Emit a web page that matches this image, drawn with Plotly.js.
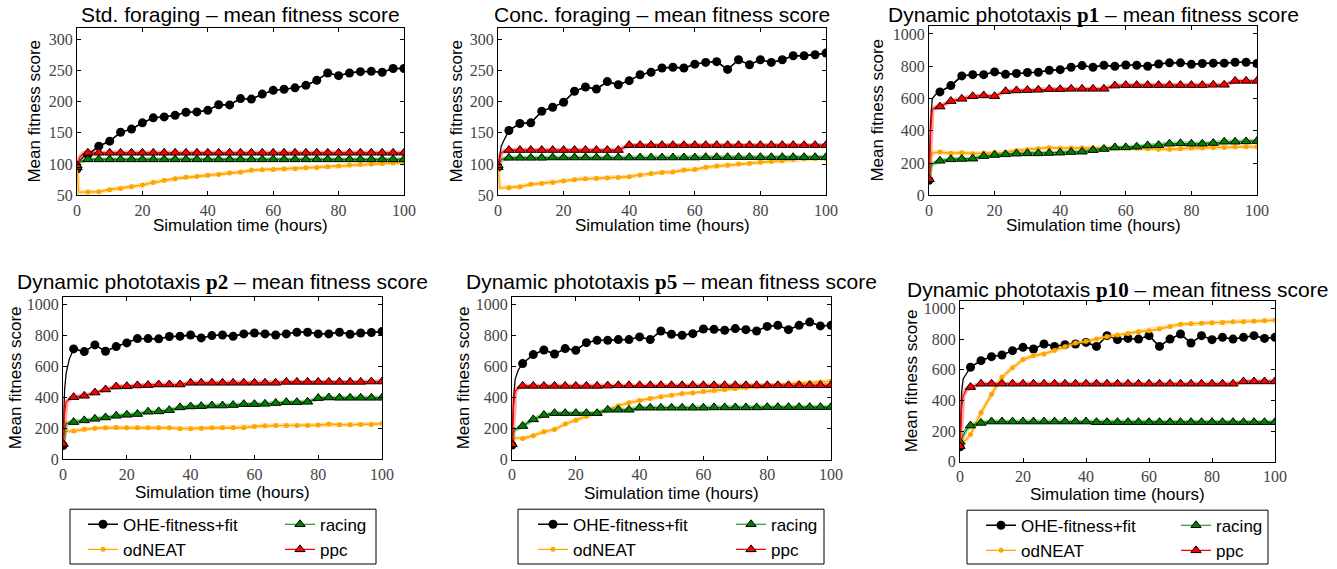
<!DOCTYPE html>
<html>
<head>
<meta charset="utf-8">
<script src="https://cdn.plot.ly/plotly-3.0.1.min.js"></script>
<style>
html,body{margin:0;padding:0;background:#fff;}
#chart{width:1337px;height:569px;}
</style>
</head>
<body>
<div id="chart"></div>
<script>
// ---------------- DATA ----------------
const X_MARK = [0, 3.33, 6.67, 10, 13.33, 16.67, 20, 23.33, 26.67, 30, 33.33, 36.67, 40, 43.33, 46.67, 50,
                53.33, 56.67, 60, 63.33, 66.67, 70, 73.33, 76.67, 80, 83.33, 86.67, 90, 93.33, 96.67, 100];
const X_EARLY = [0.5, 1, 2];
const SERIES_NAMES = ['OHE-fitness+fit', 'odNEAT', 'racing', 'ppc'];
const X_TICKS = [0, 20, 40, 60, 80, 100];
const Y_TICKS_FORAGING = [50, 100, 150, 200, 250, 300];
const Y_TICKS_PHOTOTAXIS = [0, 200, 400, 600, 800, 1000];
const PANEL_TITLES = [
  'Std. foraging – mean fitness score',
  'Conc. foraging – mean fitness score',
  'Dynamic phototaxis <span style="font-family:Liberation Serif"><b>p1</b></span> – mean fitness score',
  'Dynamic phototaxis <span style="font-family:Liberation Serif"><b>p2</b></span> – mean fitness score',
  'Dynamic phototaxis <span style="font-family:Liberation Serif"><b>p5</b></span> – mean fitness score',
  'Dynamic phototaxis <span style="font-family:Liberation Serif"><b>p10</b></span> – mean fitness score'
];
const X_TITLE = 'Simulation time (hours)';
const Y_TITLE = 'Mean fitness score';

// Std. foraging
const stdOHE = [92, 115, 128.7, 136.7, 151, 156, 166, 174, 175.5, 178, 183, 183.5, 186, 195, 194.7, 204.8, 204, 212, 218, 219.7, 222, 226, 234, 245.8, 241.5, 245.8, 248, 248.5, 247, 253, 253];
const stdOHE_early = [100, 106, 112];
const stdOD = [95, 55.3, 55.8, 59, 61, 63.8, 66.5, 70.7, 74, 76.6, 79, 80.3, 82, 83.5, 85.6, 87, 90.4, 91, 91.5, 92, 92.6, 94, 94.7, 95.8, 96.8, 98.4, 99.5, 100, 101, 101.6, 102.7];
const stdOD_early = [55, 55, 55];
const stdRAC = [95, 107.5, 107.5, 107.5, 107.5, 107.5, 107.5, 107.5, 107.5, 107.5, 107.5, 107.5, 107.5, 107.5, 107.5, 107.5, 107.5, 107.5, 107.5, 107.5, 107.5, 107.5, 107.5, 107.5, 107.5, 107.5, 107.5, 107.5, 107.5, 107.5, 107.5];
const stdRAC_early = [100, 104, 106];
const stdPPC = [98, 118, 118, 118, 118, 118, 118, 118, 118, 118, 118, 118, 118, 118, 118, 118, 118, 118, 118, 118, 118, 118, 118, 118, 118, 118, 118, 118, 118, 118, 118];
const stdPPC_early = [105, 112, 117];

// Conc. foraging
const concOHE = [95, 153.7, 165, 166, 184.6, 191, 199, 216.5, 223.4, 220, 232, 227, 233.5, 243, 247, 253.8, 255, 253.8, 260, 262.8, 264, 251.6, 267, 259, 267, 262.8, 267, 273.4, 273.4, 275, 277.7];
const concOHE_early = [113, 129, 140];
const concOD = [95, 62.2, 63.8, 67.6, 69, 70.7, 73, 75, 76.6, 77, 77.7, 78.7, 79.8, 82.5, 85, 86.7, 87.2, 90.4, 91.5, 95, 96.8, 98, 100, 101, 103, 104, 105.3, 107.5, 108.5, 109, 109];
const concOD_early = [62, 62, 62];
const concRAC = [95, 110, 110, 110, 110, 110.5, 110.5, 110.5, 110.5, 110.5, 110.5, 110.5, 110.5, 110.5, 110.5, 110.5, 110.5, 110.5, 110.5, 111, 111, 111, 111, 111, 111, 111, 111, 111, 111, 111, 111];
const concRAC_early = [103, 107, 109];
const concPPC = [98, 122.4, 122.4, 122.4, 122.4, 122.4, 122.4, 122.4, 122.4, 122.4, 122.4, 122.4, 130.3, 130.3, 130.3, 130.3, 130.3, 130.3, 130.3, 130.3, 130.3, 130.3, 130.3, 130.3, 130.3, 130.3, 130.3, 130.3, 130.3, 130.3, 130.3];
const concPPC_early = [110, 118, 121];

// Dynamic phototaxis p1
const p1OHE = [93, 641, 680, 740, 748, 748, 765, 750, 755, 761, 763, 775, 779, 794, 804, 794, 806, 800, 808, 806, 800, 814, 821, 821, 812, 817, 819, 819, 825, 825, 817];
const p1OHE_early = [450, 600, 625];
const p1OD = [100, 268, 260, 264, 258, 262, 266, 266, 278, 282, 289, 295, 291, 293, 295, 293, 293, 295, 293, 291, 289, 285, 285, 289, 293, 293, 297, 297, 301, 301, 301];
const p1OD_early = [240, 262, 266];
const p1RAC = [100, 214, 223, 225, 227, 243, 250, 254, 258, 260, 260, 262, 264, 268, 270, 280, 287, 297, 297, 301, 309, 311, 320, 322, 320, 320, 324, 332, 332, 334, 336];
const p1RAC_early = [175, 195, 203];
const p1PPC = [100, 550, 584, 598, 614, 619, 614, 645, 650, 652, 654, 658, 658, 660, 660, 660, 660, 680, 683, 683, 683, 683, 683, 683, 683, 683, 685, 685, 709, 709, 709];
const p1PPC_early = [400, 530, 545];

// Dynamic phototaxis p2
const p2OHE = [90, 714, 697, 740, 699, 729, 753, 781, 781, 779, 794, 796, 804, 785, 800, 804, 796, 811, 817, 811, 804, 811, 822, 822, 811, 811, 822, 809, 817, 820, 826];
const p2OHE_early = [450, 560, 650];
const p2OD = [100, 183, 194, 202, 204, 206, 204, 204, 204, 204, 204, 198, 198, 202, 204, 204, 204, 204, 213, 217, 219, 219, 219, 219, 222, 228, 224, 224, 226, 226, 232];
const p2OD_early = [180, 182, 183];
const p2RAC = [100, 241, 252, 262, 271, 282, 288, 293, 308, 310, 318, 336, 342, 344, 348, 348, 351, 357, 357, 359, 364, 370, 370, 372, 396, 400, 398, 398, 398, 398, 398];
const p2RAC_early = [200, 230, 238];
const p2PPC = [100, 402, 411, 432, 452, 471, 473, 478, 480, 484, 484, 484, 495, 495, 495, 495, 495, 495, 495, 495, 495, 501, 501, 501, 501, 501, 501, 501, 501, 503, 503];
const p2PPC_early = [300, 370, 390];

// Dynamic phototaxis p5
const p5OHE = [94, 620, 678, 708, 682, 717, 706, 755, 770, 770, 775, 775, 792, 775, 830, 809, 803, 813, 843, 841, 835, 846, 839, 830, 860, 867, 839, 867, 888, 863, 867];
const p5OHE_early = [400, 520, 580];
const p5OD = [130, 137, 155, 180, 195, 230, 255, 281, 305, 320, 348, 367, 382, 395, 406, 416, 427, 431, 440, 446, 453, 459, 466, 472, 481, 487, 489, 494, 496, 502, 506];
const p5OD_early = [135, 138, 140];
const p5RAC = [100, 217, 260, 288, 300, 300, 300, 300, 300, 322, 322, 322, 335, 335, 335, 335, 335, 335, 335, 337, 337, 337, 337, 337, 339, 339, 339, 339, 339, 339, 339];
const p5RAC_early = [180, 195, 205];
const p5PPC = [100, 476, 476, 476, 476, 476, 476, 476, 476, 478, 480, 480, 480, 480, 480, 480, 480, 480, 480, 480, 480, 480, 480, 480, 480, 480, 480, 480, 480, 480, 480];
const p5PPC_early = [350, 440, 465];

// Dynamic phototaxis p10
const p10OHE = [97, 617, 660, 686, 697, 725, 747, 736, 769, 753, 764, 769, 779, 753, 823, 797, 805, 801, 823, 753, 801, 834, 775, 823, 797, 812, 801, 812, 823, 805, 812];
const p10OHE_early = [450, 540, 570];
const p10OD = [130, 178, 320, 440, 552, 613, 667, 693, 704, 727, 751, 775, 786, 801, 818, 827, 838, 849, 855, 866, 883, 898, 901, 905, 907, 909, 914, 914, 918, 920, 924];
const p10OD_early = [125, 130, 145];
const p10RAC = [130, 236, 253, 262, 262, 262, 262, 262, 262, 262, 262, 262, 262, 258, 258, 258, 258, 258, 258, 258, 258, 258, 258, 258, 258, 258, 258, 258, 258, 258, 258];
const p10RAC_early = [150, 175, 210];
const p10PPC = [100, 487, 509, 509, 509, 509, 509, 509, 509, 509, 509, 509, 509, 509, 509, 509, 509, 509, 509, 509, 509, 509, 509, 509, 509, 509, 509, 524, 524, 524, 524];
const p10PPC_early = [350, 430, 470];

// ---------------- LAYOUT CONFIG ----------------
const W = 1337, H = 569;
const fx = px => px / W;
const fy = py => 1 - py / H;

const PANEL_SERIES = [
  [[stdOHE, stdOHE_early], [stdOD, stdOD_early], [stdRAC, stdRAC_early], [stdPPC, stdPPC_early]],
  [[concOHE, concOHE_early], [concOD, concOD_early], [concRAC, concRAC_early], [concPPC, concPPC_early]],
  [[p1OHE, p1OHE_early], [p1OD, p1OD_early], [p1RAC, p1RAC_early], [p1PPC, p1PPC_early]],
  [[p2OHE, p2OHE_early], [p2OD, p2OD_early], [p2RAC, p2RAC_early], [p2PPC, p2PPC_early]],
  [[p5OHE, p5OHE_early], [p5OD, p5OD_early], [p5RAC, p5RAC_early], [p5PPC, p5PPC_early]],
  [[p10OHE, p10OHE_early], [p10OD, p10OD_early], [p10RAC, p10RAC_early], [p10PPC, p10PPC_early]]
];
// plot area boxes in px: [left, right, top, bottom]
const BOX = [[77, 404, 28, 196], [498, 826, 28, 196], [929, 1257, 26, 196],
             [63, 382, 298, 461], [512, 831, 298, 461.3], [960, 1275, 302, 463.3]];
const Y_RANGE = [[50, 318], [50, 318], [0, 1050], [0, 1050], [0, 1050], [0, 1050]];
const Y_TICKS = [Y_TICKS_FORAGING, Y_TICKS_FORAGING, Y_TICKS_PHOTOTAXIS, Y_TICKS_PHOTOTAXIS, Y_TICKS_PHOTOTAXIS, Y_TICKS_PHOTOTAXIS];
const TITLE_Y = [15, 15, 15, 283, 283, 291];
const XTITLE_Y = [226, 226, 226, 494.5, 495.5, 496];
const YTITLE_X = [35, 457, 878, 15, 463, 911];
// legend boxes px [left, right, top, bottom] and text x positions (col1, col2)
const LEG_BOX = [[70, 376, 511, 566], [518, 824, 511, 566], [967, 1268, 512, 566]];
const LEG_TEXT_X = [[123, 320], [573, 771], [1021, 1216]];

const STYLE = [
  {color: '#000000', band: null, symbol: 'circle', size: 9, lw: 1.3, outline: 0},
  {color: '#FFA500', band: 'rgba(255,165,0,0.35)', symbol: 'circle', size: 5, lw: 1.2, outline: 0},
  {color: '#008000', band: 'rgba(0,128,0,0.35)', symbol: 'triangle-up', size: 9, lw: 1.2, outline: 1},
  {color: '#FF0000', band: 'rgba(255,0,0,0.35)', symbol: 'triangle-up', size: 9, lw: 1.2, outline: 1}
];

const traces = [];
const layout = {
  width: W, height: H,
  margin: {l: 0, r: 0, t: 0, b: 0},
  paper_bgcolor: '#ffffff', plot_bgcolor: '#ffffff',
  showlegend: true,
  font: {family: 'Liberation Sans, Arial, sans-serif', color: '#000'},
  annotations: [], shapes: []
};

const legendIds = ['legend', 'legend2', 'legend3', 'legend4', 'legend5', 'legend6'];

PANEL_SERIES.forEach((series, k) => {
  const s = k === 0 ? '' : String(k + 1);
  const xa = 'x' + s, ya = 'y' + s;
  const [L, R, T, B] = BOX[k];
  const common = {
    showline: true, linecolor: '#000', linewidth: 1, mirror: 'ticks',
    ticks: 'inside', ticklen: 4, tickwidth: 1, tickcolor: '#000',
    showgrid: false, zeroline: false, fixedrange: true,
    tickfont: {family: 'Liberation Serif, serif', size: 16, color: '#444'}
  };
  layout['xaxis' + s] = Object.assign({}, common, {
    domain: [fx(L), fx(R)], range: [0, 100], tickvals: X_TICKS, anchor: ya
  });
  layout['yaxis' + s] = Object.assign({}, common, {
    domain: [fy(B), fy(T)], range: Y_RANGE[k], tickvals: Y_TICKS[k], anchor: xa
  });

  series.forEach((pair, j) => {
    const [ym, ye] = pair;
    const st = STYLE[j];
    const lx = [X_MARK[0]].concat(X_EARLY, X_MARK.slice(1));
    const ly = [ym[0]].concat(ye, ym.slice(1));
    if (st.band) {
      traces.push({x: lx, y: ly, xaxis: xa, yaxis: ya, mode: 'lines', showlegend: false, hoverinfo: 'skip',
        line: {color: st.band, width: 4.5}});
    }
    traces.push({x: lx, y: ly, xaxis: xa, yaxis: ya, mode: 'lines', showlegend: false, hoverinfo: 'skip',
      line: {color: st.color, width: st.lw}});
    const marker = {color: st.color, symbol: st.symbol, size: st.size, line: {color: '#000', width: st.outline}};
    traces.push({x: [X_MARK[0]], y: [ym[0]], xaxis: xa, yaxis: ya, mode: 'markers', showlegend: false,
      marker: marker});
    const tr = {x: X_MARK.slice(1), y: ym.slice(1), xaxis: xa, yaxis: ya, mode: 'lines+markers',
      name: SERIES_NAMES[j], line: {color: st.color, width: st.lw}, marker: marker, showlegend: false};
    if (k >= 3) {
      tr.showlegend = true;
      tr.legend = legendIds[2 * (k - 3) + (j < 2 ? 0 : 1)];
    }
    traces.push(tr);
  });

  // panel title
  layout.annotations.push({
    text: PANEL_TITLES[k], xref: 'paper', yref: 'paper', x: fx((L + R) / 2), y: fy(TITLE_Y[k]),
    xanchor: 'center', yanchor: 'middle', showarrow: false,
    font: {family: 'Liberation Sans, Arial, sans-serif', size: 21, color: '#000'}
  });
  // x axis title
  layout.annotations.push({
    text: X_TITLE, xref: 'paper', yref: 'paper', x: fx((L + R) / 2), y: fy(XTITLE_Y[k]),
    xanchor: 'center', yanchor: 'middle', showarrow: false,
    font: {family: 'Liberation Sans, Arial, sans-serif', size: 17, color: '#000'}
  });
  // y axis title
  layout.annotations.push({
    text: Y_TITLE, xref: 'paper', yref: 'paper', x: fx(YTITLE_X[k]), y: fy((T + B) / 2),
    xanchor: 'center', yanchor: 'middle', showarrow: false, textangle: -90,
    font: {family: 'Liberation Sans, Arial, sans-serif', size: 17, color: '#000'}
  });
});

LEG_BOX.forEach((b, i) => {
  const [L, R, T, B] = b;
  layout.shapes.push({type: 'rect', xref: 'paper', yref: 'paper', x0: fx(L), x1: fx(R), y0: fy(B), y1: fy(T),
    line: {color: '#000', width: 1}, fillcolor: 'rgba(0,0,0,0)'});
  [0, 1].forEach(c => {
    layout[legendIds[2 * i + c]] = {
      x: fx(LEG_TEXT_X[i][c] - 40), y: fy(T - 2.5), xanchor: 'left', yanchor: 'top',
      orientation: 'v', bgcolor: 'rgba(0,0,0,0)', borderwidth: 0, tracegroupgap: 0,
      font: {family: 'Liberation Sans, Arial, sans-serif', size: 17, color: '#000'}
    };
  });
});

Plotly.newPlot('chart', traces, layout, {staticPlot: true, displayModeBar: false});
</script>
</body>
</html>
